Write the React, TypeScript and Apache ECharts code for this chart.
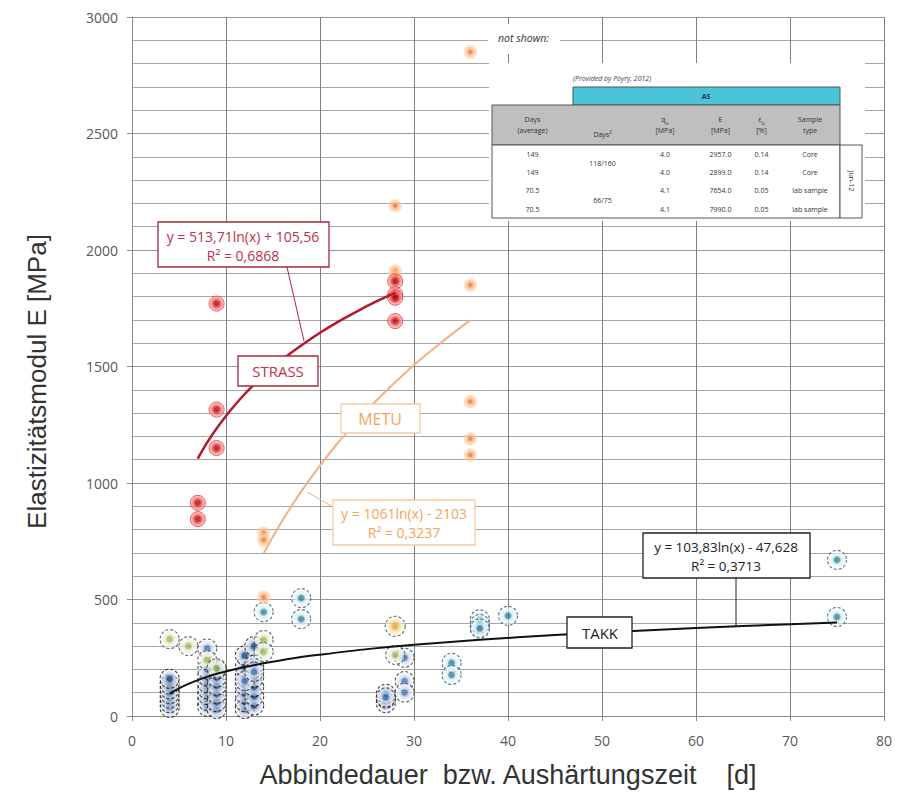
import React, { useEffect, useRef } from "react";
import * as echarts from "echarts";

// ---------- data ----------
const xTicks = [0, 10, 20, 30, 40, 50, 60, 70, 80];
const yTicks = [0, 500, 1000, 1500, 2000, 2500, 3000];

const strassX = [7, 7, 9, 9, 9, 28, 28, 28, 28];
const strassY = [915, 845, 1770, 1315, 1150, 1865, 1810, 1795, 1695];

const metuX = [14, 14, 14, 28, 28, 28, 36, 36, 36, 36, 36];
const metuY = [785, 755, 510, 2190, 1910, 1885, 2850, 1850, 1350, 1190, 1120];

const takkNavyX = [4, 4, 4, 4, 4, 4, 4, 8, 8, 8, 8, 8, 8, 9, 9, 9, 9, 9, 9, 12, 12, 12, 12, 12, 12, 12, 13, 13, 13, 13, 13, 13, 27, 27, 27];
const takkNavyY = [35, 55, 75, 95, 115, 135, 160, 40, 65, 90, 115, 140, 170, 30, 60, 95, 130, 165, 200, 30, 60, 95, 130, 170, 210, 260, 45, 85, 125, 165, 205, 300, 55, 75, 95];

const takkBlueX = [8, 8, 12, 13, 13, 27, 29, 29, 29, 37];
const takkBlueY = [290, 200, 150, 220, 190, 80, 250, 150, 100, 380];

const takkTealX = [14, 18, 18, 34, 34, 37, 37, 37, 40, 75, 75];
const takkTealY = [446, 506, 416, 228, 176, 415, 395, 375, 430, 670, 425];

const takkGreenX = [4, 6, 8, 9, 14, 14, 28];
const takkGreenY = [330, 300, 240, 205, 326, 275, 262];

const takkGoldX = [28];
const takkGoldY = [385];

// trend curves
const strassTrendX = [7, 8, 9, 10, 11, 12, 13, 14, 16, 18, 20, 22, 24, 26, 28];
const strassTrendY = [1105, 1174, 1234, 1288, 1337, 1382, 1423, 1461, 1530, 1590, 1645, 1694, 1738, 1779, 1817];
const metuTrendX = [14, 15, 16, 17, 18, 20, 22, 24, 26, 28, 30, 32, 34, 36];
const metuTrendY = [697, 770, 839, 903, 964, 1075, 1177, 1269, 1354, 1432, 1506, 1574, 1638, 1699];
const takkTrendX = [4, 5, 6, 7, 8, 9, 10, 12, 14, 17, 20, 25, 30, 37, 45, 55, 65, 75];
const takkTrendY = [96, 119, 138, 154, 168, 181, 191, 210, 226, 247, 263, 287, 306, 327, 348, 368, 386, 401];

// annotation texts
const strassEq = ["y = 513,71ln(x) + 105,56", "R² = 0,6868"];
const metuEq = ["y = 1061ln(x) - 2103", "R² = 0,3237"];
const takkEq = ["y = 103,83ln(x) - 47,628", "R² = 0,3713"];

// table
const tableTitle = "(Provided by Pöyry, 2012)";
const tableGroup = "AS";
const tableHead = ["Days\n(average)", "Days²", "{m|q}{s|u}\n[MPa]", "E\n[MPa]", "{m|ε}{s|u}\n[%]", "Sample\ntype"];
const tableDays = ["149", "149", "70.5", "70.5"];
const tableDays2 = ["118/160", "66/75"];
const tableQu = ["4.0", "4.0", "4.1", "4.1"];
const tableE = ["2957.0", "2899.0", "7654.0", "7990.0"];
const tableEps = ["0.14", "0.14", "0.05", "0.05"];
const tableType = ["Core", "Core", "lab sample", "lab sample"];
const tableDate = "Jun-12";

const zip = (xs: number[], ys: number[]) => xs.map((x, i) => [x, ys[i]]);

const radial = (inner: string, mid: string, edge: string, stop = 0.3) => ({
  type: "radial",
  x: 0.5,
  y: 0.5,
  r: 0.5,
  colorStops: [
    { offset: 0, color: inner },
    { offset: stop, color: inner },
    { offset: stop + 0.2, color: mid },
    { offset: 1, color: edge },
  ],
});

const FONT = "'Open Sans', 'Liberation Sans', sans-serif";
const TITLE_FONT = "'Liberation Sans', Arial, sans-serif";

function box(x: number, y: number, w: number, h: number, stroke: string) {
  return { type: "rect", shape: { x, y, width: w, height: h }, style: { fill: "#fff", stroke, lineWidth: 1.3 }, z: 100 };
}
function txt(x: number, y: number, text: string, fill: string, size: number, extra: any = {}) {
  return {
    type: "text",
    x,
    y,
    z: 101,
    style: { text, fill, fontSize: size, fontFamily: FONT, align: "center", verticalAlign: "middle", ...extra },
  };
}
function seg(x1: number, y1: number, x2: number, y2: number, stroke: string, w = 1) {
  return { type: "line", shape: { x1, y1, x2, y2 }, style: { stroke, lineWidth: w }, z: 99 };
}

function buildTable() {
  const els: any[] = [];
  const cols = [492, 573, 632, 698, 743, 780, 840];
  const rows = [145, 163, 181, 200, 218];
  const line = "#555";
  const fs = 7;
  els.push({ type: "rect", shape: { x: 489, y: 63, width: 376, height: 158 }, style: { fill: "#fff" }, z: 95 });
  els.push(txt(573, 78, tableTitle, "#444", 7, { align: "left", fontStyle: "italic" }));
  els.push({ type: "rect", shape: { x: 573, y: 87, width: 267, height: 18 }, style: { fill: "#4bc3d8", stroke: line, lineWidth: 1 }, z: 100 });
  els.push(txt(706, 96, tableGroup, "#234", 7, { fontWeight: "bold" }));
  els.push({ type: "rect", shape: { x: 492, y: 105, width: 348, height: 40 }, style: { fill: "#bfbfbf", stroke: line, lineWidth: 1 }, z: 100 });
  els.push({ type: "rect", shape: { x: 492, y: 145, width: 348, height: 73 }, style: { fill: "#fff", stroke: line, lineWidth: 1 }, z: 100 });
  for (let c = 1; c < cols.length - 1; c++) {
    const w = c === 4 ? 1.6 : 1;
    els.push(seg(cols[c], 105, cols[c], 218, c === 4 ? "#111" : line, w));
  }
  for (let r = 1; r < rows.length - 1; r++) {
    if (r === 2) {
      els.push(seg(492, rows[r], 840, rows[r], line));
    } else {
      els.push(seg(492, rows[r], 573, rows[r], line));
      els.push(seg(632, rows[r], 840, rows[r], line));
    }
  }
  tableHead.forEach((h, c) => {
    const cx = (cols[c] + cols[c + 1]) / 2;
    const cy = c === 1 ? 134 : 125;
    els.push(
      txt(cx, cy, h, "#333", fs, {
        lineHeight: 11,
        rich: {
          m: { fontSize: fs, fontFamily: FONT, fill: "#333", lineHeight: 11 },
          s: { fontSize: 5, fontFamily: FONT, fill: "#333", verticalAlign: "bottom", lineHeight: 11 },
        },
      })
    );
  });
  const colsData = [tableDays, null, tableQu, tableE, tableEps, tableType];
  colsData.forEach((col, c) => {
    if (!col) return;
    const cx = (cols[c] + cols[c + 1]) / 2;
    col.forEach((v, r) => els.push(txt(cx, (rows[r] + rows[r + 1]) / 2, v, "#333", fs)));
  });
  tableDays2.forEach((v, i) => els.push(txt((cols[1] + cols[2]) / 2, rows[i * 2 + 1], v, "#333", fs)));
  els.push({ type: "rect", shape: { x: 840, y: 145, width: 22, height: 73 }, style: { fill: "#fff", stroke: line, lineWidth: 1 }, z: 100 });
  els.push({ ...txt(851, 181, tableDate, "#333", fs), rotation: -Math.PI / 2 });
  return els;
}

export default function App() {
  const ref = useRef<HTMLDivElement>(null);
  useEffect(() => {
    if (!ref.current) return;
    const chart = echarts.init(ref.current, undefined, { renderer: "svg" });

    const takkStyle = (center: string, fill: string, border: string) => ({
      color: radial(center, fill, "rgba(255,255,255,0.5)", 0.24),
      borderColor: border,
      borderWidth: 1.1,
      borderType: [3, 2],
    });

    const graphic: any[] = [
      { type: "rect", shape: { x: 488, y: 24, width: 72, height: 30 }, style: { fill: "#fff" }, z: 95 },
      txt(498, 38, "not shown:", "#333", 10.5, { align: "left", fontStyle: "italic" }),
      ...buildTable(),
      // STRASS annotations
      seg(287, 267, 304, 341, "#a52a3a"),
      box(158, 222, 171, 45, "#a52a3a"),
      txt(243, 236, strassEq[0], "#c0304a", 14),
      txt(243, 255, strassEq[1], "#c0304a", 14),
      box(238, 356, 80, 30, "#a52a3a"),
      txt(278, 371, "STRASS", "#c0304a", 15),
      // METU annotations
      box(341, 404, 79, 29, "#f8cba0"),
      txt(380, 419, "METU", "#f4a460", 16),
      seg(307, 492, 335, 508, "#f4b183"),
      box(333, 500, 142, 45, "#f8cba0"),
      txt(404, 513, metuEq[0], "#f4a460", 14),
      txt(404, 532, metuEq[1], "#f4a460", 14),
      // TAKK annotations
      seg(736, 578, 736, 627, "#222"),
      box(643, 533, 167, 45, "#222"),
      txt(726, 547, takkEq[0], "#222", 13.5),
      txt(726, 566, takkEq[1], "#222", 13.5),
      box(567, 617, 65, 31, "#222"),
      txt(600, 633, "TAKK", "#222", 15),
    ];

    chart.setOption({
      animation: false,
      backgroundColor: "#fff",
      grid: { left: 132, right: 23, top: 17, bottom: 76 },
      xAxis: {
        type: "value",
        min: xTicks[0],
        max: xTicks[xTicks.length - 1],
        interval: 10,
        name: "Abbindedauer  bzw. Aushärtungszeit    [d]",
        nameLocation: "middle",
        nameGap: 45,
        nameTextStyle: { fontSize: 27, fontFamily: TITLE_FONT, color: "#333" },
        axisLine: { show: true, lineStyle: { color: "#8c8c8c" } },
        axisTick: { show: true, length: 5, lineStyle: { color: "#8c8c8c" } },
        axisLabel: { fontSize: 14, fontFamily: FONT, color: "#595959", margin: 17, formatter: (v: number) => String(v) },
        splitLine: { show: true, lineStyle: { color: "#7f7f7f", width: 1 } },
      },
      yAxis: {
        type: "value",
        min: yTicks[0],
        max: yTicks[yTicks.length - 1],
        interval: 500,
        name: "Elastizitätsmodul E [MPa]",
        nameLocation: "middle",
        nameGap: 82,
        nameRotate: 90,
        nameTextStyle: { fontSize: 26, fontFamily: TITLE_FONT, color: "#333", padding: [0, 30, 0, 0] },
        axisLine: { show: true, lineStyle: { color: "#8c8c8c" } },
        axisTick: { show: true, length: 5, lineStyle: { color: "#8c8c8c" } },
        axisLabel: { fontSize: 14, fontFamily: FONT, color: "#595959", margin: 14, formatter: (v: number) => String(v) },
        splitLine: { show: true, lineStyle: { color: "#9a9a9a", width: 1 } },
        minorTick: { show: false, splitNumber: 5 },
        minorSplitLine: { show: true, lineStyle: { color: "#a6a6a6", width: 1 } },
      },
      graphic,
      series: [
        {
          name: "TAKK navy",
          type: "scatter",
          data: zip(takkNavyX, takkNavyY),
          symbolSize: 19,
          itemStyle: takkStyle("#1c3a6b", "#9fb7dc", "#111"),
          z: 3,
        },
        {
          name: "TAKK blue",
          type: "scatter",
          data: zip(takkBlueX, takkBlueY),
          symbolSize: 19,
          itemStyle: takkStyle("#3f6fb5", "#c3d5ef", "#333"),
          z: 3,
        },
        {
          name: "TAKK green",
          type: "scatter",
          data: zip(takkGreenX, takkGreenY),
          symbolSize: 19,
          itemStyle: takkStyle("#9bb655", "#e2ebcb", "#444"),
          z: 3,
        },
        {
          name: "TAKK gold",
          type: "scatter",
          data: zip(takkGoldX, takkGoldY),
          symbolSize: 20,
          itemStyle: takkStyle("#e0a530", "#f6d37e", "#444"),
          z: 3,
        },
        {
          name: "TAKK teal",
          type: "scatter",
          data: zip(takkTealX, takkTealY),
          symbolSize: 19,
          itemStyle: takkStyle("#2f7f97", "#cfe9f2", "#2a5870"),
          z: 3,
        },
        {
          name: "METU",
          type: "scatter",
          data: zip(metuX, metuY),
          symbolSize: 14,
          itemStyle: { color: radial("#e8722a", "#f9b27a", "rgba(252,215,185,0.6)", 0.2) },
          z: 4,
        },
        {
          name: "STRASS",
          type: "scatter",
          data: zip(strassX, strassY),
          symbolSize: 15,
          itemStyle: {
            color: radial("#9b0a14", "#f03838", "rgba(255,190,190,0.7)", 0.28),
            borderColor: "#e8303a",
            borderWidth: 1,
          },
          z: 4,
        },
        {
          name: "TAKK trend",
          type: "line",
          data: zip(takkTrendX, takkTrendY),
          smooth: 0.3,
          showSymbol: false,
          lineStyle: { color: "#111", width: 2 },
          z: 5,
        },
        {
          name: "METU trend",
          type: "line",
          data: zip(metuTrendX, metuTrendY),
          smooth: 0.3,
          showSymbol: false,
          lineStyle: { color: "#f4b183", width: 2 },
          z: 5,
        },
        {
          name: "STRASS trend",
          type: "line",
          data: zip(strassTrendX, strassTrendY),
          smooth: 0.3,
          showSymbol: false,
          lineStyle: { color: "#b3182b", width: 2.5 },
          z: 5,
        },
      ],
    });
    return () => chart.dispose();
  }, []);
  return <div ref={ref} style={{ position: "fixed", left: 0, top: 0, width: 907, height: 793 }} />;
}
